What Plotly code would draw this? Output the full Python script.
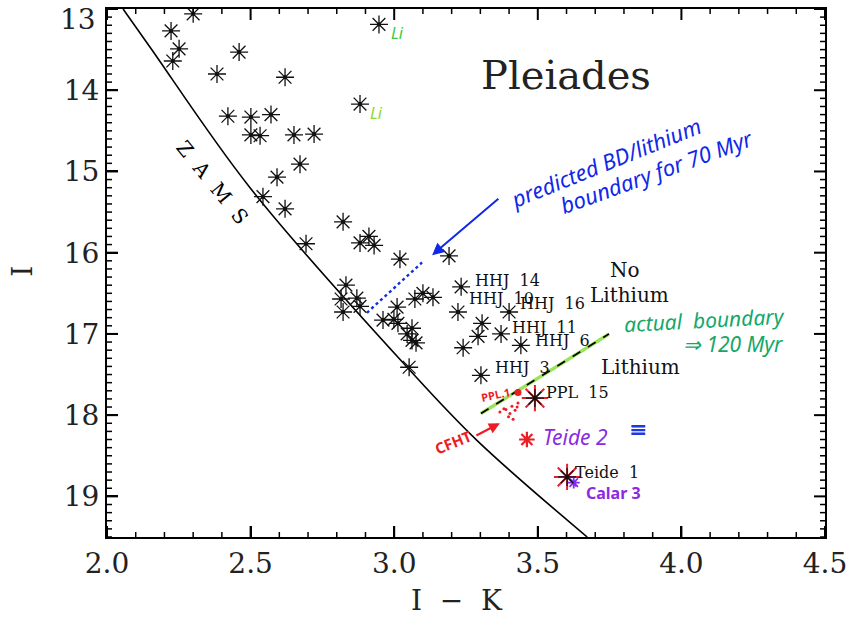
import plotly.graph_objects as go

# ---------------- data ----------------
star_ik = [2.300, 2.223, 2.251, 2.229, 2.460, 2.383, 2.620, 2.421, 2.501, 2.571,
           2.501, 2.533, 2.651, 2.721, 2.672, 2.592, 2.543, 2.620, 2.947, 2.881,
           2.822, 2.912, 2.881, 2.930, 2.693, 3.020, 3.191, 2.832, 2.815, 2.870,
           2.822, 2.881, 3.010, 2.961, 2.999, 3.013, 3.062, 3.045, 3.062, 3.076,
           3.052, 3.072, 3.100, 3.135, 3.233, 3.222, 3.240, 3.306, 3.292, 3.372,
           3.400, 3.441, 3.302, 3.490, 3.602]
star_i = [13.06, 13.27, 13.49, 13.64, 13.53, 13.80, 13.84, 14.32, 14.33, 14.30,
          14.55, 14.56, 14.55, 14.54, 14.91, 15.07, 15.31, 15.46, 13.19, 14.17,
          15.62, 15.80, 15.88, 15.91, 15.89, 16.08, 16.04, 16.40, 16.57, 16.56,
          16.73, 16.66, 16.67, 16.83, 16.82, 16.87, 16.93, 17.00, 17.08, 17.11,
          17.41, 16.57, 16.50, 16.55, 16.42, 16.73, 17.17, 16.87, 17.03, 17.00,
          16.73, 17.14, 17.51, 17.79, 18.76]

zams_ik = [2.056, 2.150, 2.498, 3.045, 3.288, 3.672]
zams_i = [13.00, 13.47, 15.20, 17.41, 18.31, 19.50]

label_names = ["HHJ 14", "HHJ 10", "HHJ 16", "HHJ 11", "HHJ 6", "HHJ 3", "PPL 15", "Teide 1"]
label_ik = [3.274, 3.253, 3.431, 3.403, 3.483, 3.344, 3.522, 3.623]
label_i = [16.34, 16.57, 16.62, 16.92, 17.08, 17.41, 17.72, 18.71]

red_star_ik = [3.490, 3.602]
red_star_i = [17.79, 18.76]
teide2_ik = [3.462]
teide2_i = [18.30]
calar3_ik = [3.625]
calar3_i = [18.83]

cfht_ik = [3.368, 3.389, 3.410, 3.421, 3.428, 3.403, 3.414, 3.382, 3.431, 3.398]
cfht_i = [17.96, 17.93, 17.89, 17.94, 17.90, 17.98, 18.05, 17.92, 17.85, 18.02]
ppl1_ik = [3.431]
ppl1_i = [17.72]

actual_ik = [3.302, 3.748]
actual_i = [17.98, 17.00]
pred_ik = [2.905, 3.097]
pred_i = [16.74, 16.12]

# axis ticks
x_major = [2.0, 2.5, 3.0, 3.5, 4.0, 4.5]
x_minor = [round(2.0 + 0.1 * k, 1) for k in range(26)]
y_major = [13, 14, 15, 16, 17, 18, 19]
y_minor = [round(13.0 + 0.1 * k, 1) for k in range(66)]

SERIF = "DejaVu Serif"
HAND = "Noto Sans"

fig = go.Figure()

fig.add_trace(go.Scatter(x=zams_ik, y=zams_i, mode="lines", line=dict(color="black", width=1.6),
                         line_shape="spline", hoverinfo="skip"))
fig.add_trace(go.Scatter(x=actual_ik, y=actual_i, mode="lines",
                         line=dict(color="#9be35a", width=3.5), hoverinfo="skip"))
fig.add_trace(go.Scatter(x=actual_ik, y=actual_i, mode="lines",
                         line=dict(color="black", width=1.6, dash="dash"), hoverinfo="skip"))
fig.add_trace(go.Scatter(x=pred_ik, y=pred_i, mode="lines",
                         line=dict(color="#1030e0", width=2.4, dash="dot"), hoverinfo="skip"))
fig.add_trace(go.Scatter(x=red_star_ik, y=red_star_i, mode="markers",
                         marker=dict(symbol="asterisk-open", size=22, color="#e8202a",
                                     line=dict(color="#e8202a", width=2)), hoverinfo="skip"))
fig.add_trace(go.Scatter(x=teide2_ik, y=teide2_i, mode="markers",
                         marker=dict(symbol="asterisk-open", size=13, color="#ee1c24",
                                     line=dict(color="#ee1c24", width=2.2)), hoverinfo="skip"))
fig.add_trace(go.Scatter(x=calar3_ik, y=calar3_i, mode="markers",
                         marker=dict(symbol="asterisk-open", size=10, color="#7a2ff0",
                                     line=dict(color="#7a2ff0", width=1.8)), hoverinfo="skip"))
fig.add_trace(go.Scatter(x=cfht_ik, y=cfht_i, mode="markers",
                         marker=dict(symbol="circle", size=3, color="#ee1c24"), hoverinfo="skip"))
fig.add_trace(go.Scatter(x=ppl1_ik, y=ppl1_i, mode="markers",
                         marker=dict(symbol="circle", size=7, color="#ee1c24"), hoverinfo="skip"))
fig.add_trace(go.Scatter(x=star_ik, y=star_i, mode="markers",
                         marker=dict(symbol="asterisk-open", size=15, color="#111111",
                                     line=dict(color="#111111", width=1.3)), hoverinfo="skip"))
fig.add_trace(go.Scatter(x=star_ik, y=star_i, mode="markers",
                         marker=dict(symbol="circle", size=4, color="#111111"), hoverinfo="skip"))

ann = []
def txt(x, y, s, size, color="#111111", family=SERIF, angle=0, xanchor="center", yanchor="middle", **kw):
    ann.append(dict(x=x, y=y, xref="x", yref="y", text=s, showarrow=False,
                    font=dict(family=family, size=size, color=color), textangle=angle,
                    xanchor=xanchor, yanchor=yanchor, **kw))

for n, lx, ly in zip(label_names, label_ik, label_i):
    txt(lx, ly, n.replace(" ", "&nbsp;&nbsp;"), 16, xanchor="left")

txt(3.598, 13.81, "Pleiades", 40, color="#222222")
txt(3.805, 16.21, "No", 20)
txt(3.821, 16.52, "Lithium", 20)
txt(3.859, 17.41, "Lithium", 20)
txt(2.369, 15.14, "Z&nbsp;&nbsp;A&nbsp;&nbsp;M&nbsp;&nbsp;S", 20, color="#000000", angle=51)

txt(3.013, 13.30, "<i>Li</i>", 16, color="#3cc83c", family=HAND)
txt(2.937, 14.28, "<i>Li</i>", 16, color="#8ad82a", family=HAND)
txt(3.735, 14.88, "<i>predicted BD/lithium</i>", 22, color="#1028e8", family=HAND, angle=-22)
txt(3.915, 15.00, "<i>boundary for 70 Myr</i>", 22, color="#1028e8", family=HAND, angle=-20)
txt(4.082, 16.83, "<i>actual  boundary</i>", 21, color="#12a86a", family=HAND, angle=-3)
txt(4.180, 17.13, "<i>⇒ 120 Myr</i>", 21, color="#12a86a", family=HAND)
txt(3.630, 18.27, "<i>Teide 2</i>", 21, color="#8a2be2", family=HAND)
txt(3.765, 18.96, "<b>Calar 3</b>", 16, color="#8a2be2", family=HAND)
txt(3.850, 18.17, "<b>≡</b>", 22, color="#1c3ae0", family=SERIF)
txt(3.353, 17.74, "<b>PPL.1</b>", 11, color="#ee1c24", family=HAND, angle=-12)
txt(3.205, 18.33, "<b>CFHT</b>", 15, color="#ee1c24", family=HAND, angle=-22)

ann.append(dict(x=3.132, y=16.03, ax=3.368, ay=15.32, xref="x", yref="y", axref="x", ayref="y",
                showarrow=True, arrowhead=2, arrowsize=1.2, arrowwidth=2, arrowcolor="#1028e8", text=""))
ann.append(dict(x=3.368, y=18.10, ax=3.281, ay=18.26, xref="x", yref="y", axref="x", ayref="y",
                showarrow=True, arrowhead=2, arrowsize=1, arrowwidth=2.2, arrowcolor="#ee1c24", text=""))

# top y tick label sits just below the frame corner, as in the original
ann.append(dict(x=-0.012, y=13.13, xref="paper", yref="y", text=str(y_major[0]), showarrow=False,
                font=dict(family=SERIF, size=28, color="#222222"), xanchor="right", yanchor="middle"))

ann.append(dict(x=0.488, y=-0.121, xref="paper", yref="paper", text="I &nbsp;−&nbsp; K",
                showarrow=False, font=dict(family=SERIF, size=28, color="#222222"),
                xanchor="center", yanchor="middle"))
ann.append(dict(x=-0.118, y=0.503, xref="paper", yref="paper", text="I", textangle=-90,
                showarrow=False, font=dict(family=SERIF, size=28, color="#222222"),
                xanchor="center", yanchor="middle"))

# tick marks drawn from the tick value lists (inside, on all four sides)
shapes = []
tick_line = lambda w: dict(color="black", width=w)
for v in x_minor:
    ln, w = (11, 2) if round(v * 2, 6) == round(v * 2) else (5, 1.5)
    shapes.append(dict(type="line", xref="x", yref="paper", x0=v, x1=v, ysizemode="pixel",
                       yanchor=0, y0=0, y1=ln, line=tick_line(w), layer="above"))
    shapes.append(dict(type="line", xref="x", yref="paper", x0=v, x1=v, ysizemode="pixel",
                       yanchor=1, y0=0, y1=-ln, line=tick_line(w), layer="above"))
for v in y_minor:
    ln, w = (11, 2) if abs(v - round(v)) < 1e-6 else (5, 1.5)
    shapes.append(dict(type="line", xref="paper", yref="y", y0=v, y1=v, xsizemode="pixel",
                       xanchor=0, x0=0, x1=ln, line=tick_line(w), layer="above"))
    shapes.append(dict(type="line", xref="paper", yref="y", y0=v, y1=v, xsizemode="pixel",
                       xanchor=1, x0=0, x1=-ln, line=tick_line(w), layer="above"))

fig.update_layout(
    width=848, height=620,
    margin=dict(l=107, r=23, t=9, b=83),
    paper_bgcolor="white", plot_bgcolor="white",
    showlegend=False,
    annotations=ann,
    shapes=shapes,
)
fig.update_xaxes(range=[2.0, 4.5], tickmode="array", tickvals=x_major,
                 ticktext=[f"{v:.1f}" for v in x_major], automargin=False,
                 showgrid=False, zeroline=False, showline=True, linecolor="black", linewidth=2,
                 mirror=True, ticks="inside", ticklen=11, tickwidth=2, tickcolor="black",
                 tickfont=dict(family=SERIF, size=28, color="#222222"),
                 ticklabeloverflow="allow")
fig.update_yaxes(range=[19.5, 13.0], tickmode="array", tickvals=y_major[1:],
                 ticktext=[str(v) for v in y_major[1:]], automargin=False,
                 showgrid=False, zeroline=False, showline=True, linecolor="black", linewidth=2,
                 mirror=True, ticks="inside", ticklen=11, tickwidth=2, tickcolor="black",
                 tickfont=dict(family=SERIF, size=28, color="#222222"),
                 ticklabeloverflow="allow")

fig.write_html("out.html")
